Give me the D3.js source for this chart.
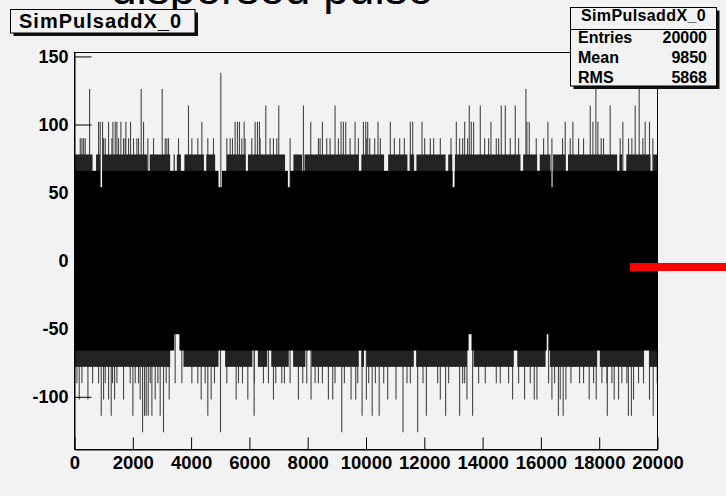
<!DOCTYPE html>
<html><head><meta charset="utf-8">
<script src="https://cdn.jsdelivr.net/npm/d3@7"></script>
<style>html,body{margin:0;padding:0;background:#f2f2f2;overflow:hidden;} svg{display:block;}</style>
</head><body>
<script>
// ---------- data ----------
const slideTitle = "dispersed pulse";
const histName = "SimPulsaddX_0";
const statLabels = ["Entries", "Mean", "RMS"];
const statValues = ["20000", "9850", "5868"];
const xTickValues = [0, 2000, 4000, 6000, 8000, 10000, 12000, 14000, 16000, 18000, 20000];
const xTickLabels = ["0", "2000", "4000", "6000", "8000", "10000", "12000", "14000", "16000", "18000", "20000"];
const yTickValues = [-100, -50, 0, 50, 100, 150];
const yTickLabels = ["-100", "-50", "0", "50", "100", "150"];
const xDomain = [0, 20000];
const yDomain = [-138.7, 152.9];

// dense core of the noise (every bin column reaches these values)
const coreRange = [-54, 54];
// fringe levels reached by most columns, with the bin ranges where they are not reached
const upLevel1 = 66;
const up66Gaps = [[874, 960], [4940, 5060], [7320, 7400], [12970, 13040], [16350, 16410]];
const upLevel2 = 78;
const up78Gaps = [[620, 740], [2500, 2580], [3282, 3400], [3440, 3511], [3650, 3770], [4440, 4520], [4825, 4960], [5060, 5225], [5870, 5950], [7224, 7330], [7400, 7510], [7810, 7890], [9750, 9840], [10620, 10760], [11420, 11500], [11650, 11730], [12730, 12820], [12960, 13050], [15300, 15390], [15870, 15960], [16330, 16420], [16845, 16930], [18615, 18700], [18790, 18930], [19760, 19850]];
const dnLevel1 = -66;
const dn66Gaps = [[3420, 3600], [13520, 13620], [16200, 16280]];
const dnLevel2 = -78;
const dn78Gaps = [[3282, 3739], [4939, 5167], [6100, 6290], [6610, 6750], [7350, 7500], [7920, 8130], [9750, 9840], [9930, 10020], [11640, 11720], [13463, 13692], [15070, 15190], [16160, 16310], [17930, 18020], [19530, 19715]];

// single-bin spikes beyond the fringe (bin numbers), per value
const up90 = [197, 254, 311, 368, 997, 1054, 1282, 1511, 1682, 1739, 1854, 2025, 2139, 2196, 2516, 2711, 3111, 3168, 3225, 3568, 4025, 4230, 4573, 4767, 5224, 5339, 5419, 5739, 5853, 6082, 6367, 6710, 6824, 6939, 7396, 8367, 8424, 8653, 8767, 9053, 9453, 9738, 10024, 10127, 10298, 10492, 10972, 11155, 11315, 12012, 12206, 12321, 12549, 12915, 13212, 13315, 13486, 14069, 14206, 14469, 14549, 14949, 15235, 15840, 16092, 16377, 16743, 17006, 17292, 17463, 18068, 18148, 18720, 19006, 19120, 19497, 19840];
const up102 = [825, 882, 962, 1168, 1317, 1397, 1454, 1591, 1762, 1922, 2368, 4368, 5510, 5590, 5659, 5819, 6196, 6276, 6344, 8104, 8504, 9144, 9224, 9304, 9624, 9910, 9990, 10058, 10412, 10835, 11521, 11601, 11921, 13098, 13384, 13612, 13692, 14286, 15520, 15600, 16240, 16834, 17097, 17783, 17954, 18811, 19577, 19725];
const up114 = [3910, 6562, 7007, 7853, 8938, 13543, 13920, 14640, 14778, 15120, 17692, 18377, 19234];
const up126 = [517, 2288, 3008, 15486];
const up138 = [5019, 17886, 19371];
const dn90 = [82, 254, 620, 825, 1054, 1305, 1454, 1911, 2082, 2196, 2597, 2859, 3145, 3453, 3682, 4025, 4230, 4482, 4802, 5224, 5625, 5762, 6173, 6482, 6653, 6904, 7110, 7201, 7396, 7830, 7967, 8253, 8367, 8504, 8938, 9258, 9715, 10092, 10321, 10607, 11407, 11521, 11955, 12458, 12835, 13315, 13384, 13863, 14092, 14469, 14606, 14892, 15235, 15635, 16263, 16469, 17029, 17326, 17463, 17806, 18092, 18263, 18435, 18777, 18949, 19349, 19520, 19990];
const dn102 = [162, 460, 997, 1168, 1374, 1682, 2254, 2768, 3248, 4345, 4688, 5545, 5945, 6825, 7681, 8115, 8710, 8858, 9487, 9647, 10012, 10744, 11029, 12549, 13463, 15029, 15440, 15772, 15863, 16377, 16663, 16857, 17657, 17897, 18514, 18663, 19177, 19725];
const dn114 = [917, 1259, 2002, 2402, 2460, 2530, 2654, 2939, 4573, 6162, 9866, 10212, 10452, 12070, 12731, 13211, 13657, 16600, 16763, 18278, 19000, 19104, 19852];
const dn126 = [2334, 3053, 5008, 9167, 11269, 11772];

// ---------- drawing ----------
const W = 726, H = 496;
const FONT = "'Liberation Sans', Arial, Helvetica, sans-serif";
const svg = d3.select("body").append("svg").attr("width", W).attr("height", H);
svg.append("rect").attr("width", W).attr("height", H).attr("fill", "#f2f2f2");

const xs = d3.scaleLinear().domain(xDomain).range([74.5, 657.5]);
const ys = d3.scaleLinear().domain(yDomain).range([449.5, 52.5]);

svg.append("clipPath").attr("id", "frameClip").append("rect")
  .attr("x", xs(xDomain[0])).attr("y", ys(yDomain[1]))
  .attr("width", xs(xDomain[1]) - xs(xDomain[0])).attr("height", ys(yDomain[0]) - ys(yDomain[1]));

const plot = svg.append("g").attr("clip-path", "url(#frameClip)");

// spikes first (the dense band covers their inner part)
const spikeSets = [[up90, 90], [up102, 102], [up114, 114], [up126, 126], [up138, 138],
                   [dn90, -90], [dn102, -102], [dn114, -114], [dn126, -126]];
spikeSets.forEach(([bins, v]) => {
  plot.append("g").selectAll("line").data(bins).join("line")
    .attr("x1", b => xs(b + 0.5)).attr("x2", b => xs(b + 0.5))
    .attr("y1", ys(0)).attr("y2", ys(v))
    .attr("stroke", "#444").attr("stroke-width", 1.1);
});

function filled(gaps) {
  const segs = [];
  let cur = xDomain[0];
  gaps.slice().sort((a, b) => a[0] - b[0]).forEach(g => {
    if (g[0] > cur) segs.push([cur, g[0]]);
    cur = Math.max(cur, g[1]);
  });
  if (cur < xDomain[1]) segs.push([cur, xDomain[1]]);
  return segs;
}
// each fringe layer is drawn from zero out to its level, so no seams between layers
function band(gaps, level, color) {
  plot.append("g").selectAll("rect").data(filled(gaps)).join("rect")
    .attr("x", d => xs(d[0])).attr("width", d => xs(d[1]) - xs(d[0]))
    .attr("y", ys(Math.max(0, level))).attr("height", Math.abs(ys(level) - ys(0)))
    .attr("fill", color);
}
band(up78Gaps.concat(up66Gaps), upLevel2, "#232323");
band(dn78Gaps.concat(dn66Gaps), dnLevel2, "#232323");
band(up66Gaps, upLevel1, "#000");
band(dn66Gaps, dnLevel1, "#000");
// core: one rect covering both sides of zero
plot.append("rect").datum(coreRange)
  .attr("x", xs(xDomain[0])).attr("width", xs(xDomain[1]) - xs(xDomain[0]))
  .attr("y", d => ys(d[1])).attr("height", d => ys(d[0]) - ys(d[1]))
  .attr("fill", "#000");

// axes
const yMinor = d3.range(-130, 151, 10).filter(v => v % 50 !== 0);
const xMinor = d3.range(0, 20001, 500).filter(v => v % 2000 !== 0);

const yAx = svg.append("g").attr("transform", `translate(${xs(0)},0)`);
yAx.call(d3.axisLeft(ys).tickValues(yMinor).tickFormat("").tickSizeInner(-8).tickSizeOuter(0));
yAx.call(d3.axisLeft(ys).tickValues(yTickValues).tickFormat((d, i) => yTickLabels[i]).tickSizeInner(-17).tickSizeOuter(0).tickPadding(6));
const xAx = svg.append("g").attr("transform", `translate(0,${ys(yDomain[0])})`);
xAx.call(d3.axisBottom(xs).tickValues(xMinor).tickFormat("").tickSizeInner(-6).tickSizeOuter(0));
xAx.call(d3.axisBottom(xs).tickValues(xTickValues).tickFormat((d, i) => xTickLabels[i]).tickSizeInner(-12).tickSizeOuter(0).tickPadding(6));
svg.selectAll(".tick line").attr("stroke", "#000").attr("stroke-width", 1);
svg.selectAll(".domain").attr("stroke", "#000");
yAx.selectAll("text").attr("font-family", FONT).attr("font-size", 18).attr("font-weight", "bold").attr("fill", "#000");
xAx.selectAll("text").attr("font-family", FONT).attr("font-size", 18.5).attr("font-weight", "bold").attr("fill", "#000");

// frame
svg.append("rect").attr("x", xs(xDomain[0])).attr("y", ys(yDomain[1]))
  .attr("width", xs(xDomain[1]) - xs(xDomain[0])).attr("height", ys(yDomain[0]) - ys(yDomain[1]))
  .attr("fill", "none").attr("stroke", "#000").attr("stroke-width", 1);

// slide title (cut at top, as in the reference)
svg.append("text").attr("x", 111).attr("y", 3.5).text(slideTitle)
  .attr("font-family", FONT).attr("font-size", 46).attr("fill", "#000");

// histogram title box
function shadowBox(x, y, w, h) {
  svg.append("rect").attr("x", x + 3).attr("y", y + 3).attr("width", w).attr("height", h).attr("fill", "#111");
  svg.append("rect").attr("x", x).attr("y", y).attr("width", w).attr("height", h)
    .attr("fill", "#f2f2f2").attr("stroke", "#000").attr("stroke-width", 1);
}
shadowBox(10.5, 9.5, 184.5, 23.5);
svg.append("text").attr("x", 19).attr("y", 27.5).text(histName)
  .attr("font-family", FONT).attr("font-size", 20).attr("font-weight", "bold").attr("letter-spacing", 1).attr("fill", "#000");

// stats box
shadowBox(570.5, 7.5, 146, 78.5);
svg.append("line").attr("x1", 570.5).attr("x2", 716.5).attr("y1", 29.5).attr("y2", 29.5).attr("stroke", "#000");
svg.append("text").attr("x", 643.5).attr("y", 21).attr("text-anchor", "middle").text(histName)
  .attr("font-family", FONT).attr("font-size", 16).attr("font-weight", "bold").attr("letter-spacing", 0.4).attr("fill", "#000");
const rowY = [42.8, 63.3, 82.8];
statLabels.forEach((s, i) => {
  svg.append("text").attr("x", 578).attr("y", rowY[i]).text(s)
    .attr("font-family", FONT).attr("font-size", 16).attr("font-weight", "bold").attr("fill", "#000");
  svg.append("text").attr("x", 707).attr("y", rowY[i]).attr("text-anchor", "end").text(statValues[i])
    .attr("font-family", FONT).attr("font-size", 16).attr("font-weight", "bold").attr("fill", "#000");
});

// red marker bar
svg.append("rect").attr("x", 630).attr("y", 263).attr("width", 96).attr("height", 8).attr("fill", "#ff0000");
</script>
</body></html>
